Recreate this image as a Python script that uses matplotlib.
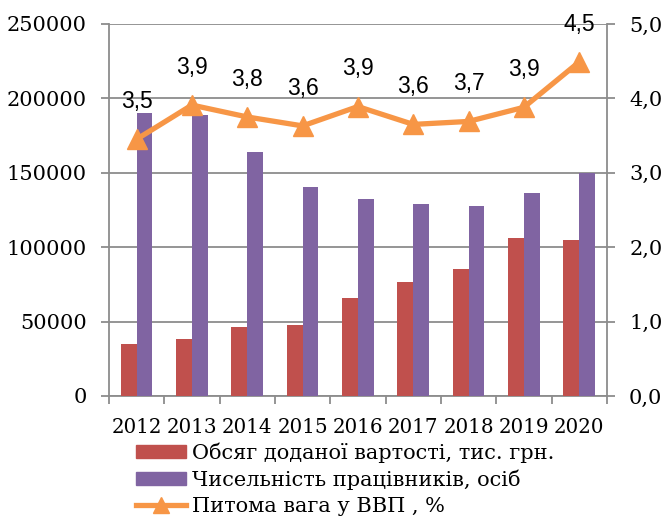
import matplotlib
matplotlib.use("Agg")
import matplotlib.pyplot as plt
from matplotlib.patches import Patch
from matplotlib.lines import Line2D
from matplotlib.ticker import FuncFormatter
import numpy as np

years = ["2012", "2013", "2014", "2015", "2016", "2017", "2018", "2019", "2020"]
value_added = [35000, 38300, 46200, 47900, 66000, 76400, 85100, 106400, 105000]
employees = [190400, 188600, 163800, 140500, 132200, 129000, 127700, 136600, 150100]
gdp_share = [3.45, 3.91, 3.75, 3.63, 3.89, 3.65, 3.69, 3.88, 4.49]
gdp_labels = ["3,5", "3,9", "3,8", "3,6", "3,9", "3,6", "3,7", "3,9", "4,5"]

red = "#C0504D"
purple = "#8064A2"
orange = "#F79646"
grid = "#8C8C8C"
serif = "DejaVu Serif"

fig = plt.figure(figsize=(6.64, 5.21), dpi=100)
ax = fig.add_axes([0.164, 0.24, 0.75, 0.714])
ax2 = ax.twinx()

x = np.arange(len(years))
w = 0.285
ax.bar(x - w / 2, value_added, w, color=red, zorder=3)
ax.bar(x + w / 2, employees, w, color=purple, zorder=3)

ax.set_xlim(-0.5, len(years) - 0.5)
ax.set_ylim(0, 250000)
ax.set_yticks(range(0, 250001, 50000))
ax.yaxis.grid(True, color=grid, lw=1.3, zorder=0)
ax.set_axisbelow(True)

ax2.plot(x, gdp_share, color=orange, lw=3.8, marker="^", markersize=15, zorder=4)
for xi, v, lab in zip(x, gdp_share, gdp_labels):
    ax2.annotate(lab, (xi, v), xytext=(0, 19), textcoords="offset points",
                 ha="center", va="bottom", fontsize=16.5, family="Liberation Sans")
ax2.set_ylim(0, 5)
ax2.set_yticks(np.arange(0, 5.01, 1))
ax2.yaxis.set_major_formatter(FuncFormatter(lambda v, p: f"{v:.1f}".replace(".", ",")))

ax.set_xticks(np.arange(-0.5, len(years), 1))
ax.set_xticklabels([])
ax.set_xticks(x, minor=True)
ax.set_xticklabels(years, minor=True)
ax.tick_params(axis="x", which="major", length=6, width=1.3, color=grid, direction="out")
ax.tick_params(axis="x", which="minor", length=0, pad=16, labelsize=14.3)
ax.tick_params(axis="y", length=6, width=1.3, color=grid, pad=10, labelsize=15)
ax2.tick_params(axis="y", length=6, width=1.3, color=grid, pad=10, labelsize=15)

for a in (ax, ax2):
    for lab in a.get_xticklabels(minor=True) + a.get_yticklabels():
        lab.set_family(serif)
    for s in a.spines.values():
        s.set_visible(False)
    a.spines["left"].set_visible(a is ax)
    a.spines["right"].set_visible(a is ax2)
    a.spines["bottom"].set_visible(a is ax)
for s in (ax.spines["left"], ax.spines["bottom"], ax2.spines["right"]):
    s.set_color(grid)
    s.set_linewidth(1.3)

handles = [
    Patch(color=red),
    Patch(color=purple),
    Line2D([], [], color=orange, lw=3.8, marker="^", markersize=12),
]
labels = ["Обсяг доданої вартості, тис. грн.", "Чисельність працівників, осіб",
          "Питома вага у ВВП , %"]
fig.legend(handles, labels, loc="upper left", bbox_to_anchor=(0.205, 0.151),
           frameon=False, prop={"family": serif, "size": 15},
           handlelength=2.4, handleheight=0.6, handletextpad=0.3,
           labelspacing=0.33, borderpad=0, borderaxespad=0)

fig.savefig("out.png", dpi=100)
